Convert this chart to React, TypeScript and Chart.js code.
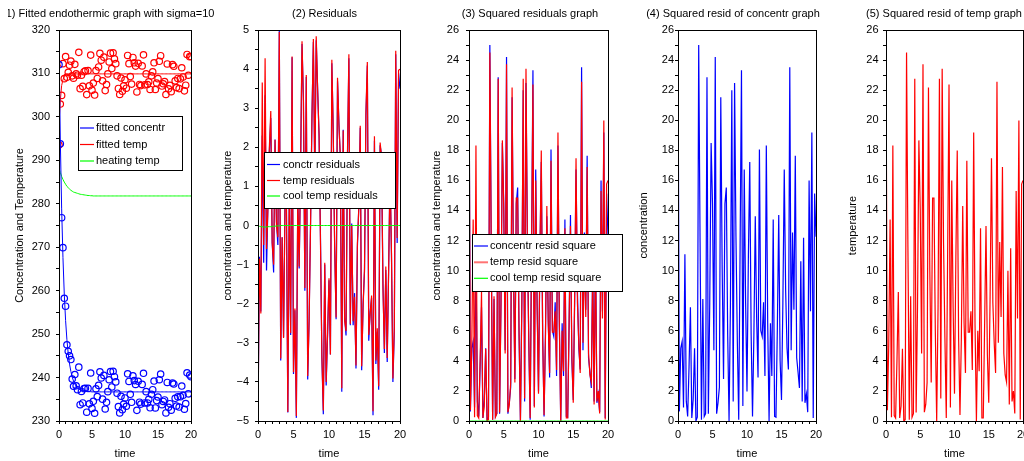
import React, { useEffect, useRef } from 'react';
import { Chart, registerables } from 'chart.js';
Chart.register(...registerables);

// ---------------- data ----------------
const time = [
  0, 0.2, 0.4, 0.6, 0.8, 1, 1.2, 1.4, 1.6, 1.8,
  2, 2.2, 2.4, 2.6, 2.8, 3, 3.2, 3.4, 3.6, 3.8,
  4, 4.2, 4.4, 4.6, 4.8, 5, 5.2, 5.4, 5.6, 5.8,
  6, 6.2, 6.4, 6.6, 6.8, 7, 7.2, 7.4, 7.6, 7.8,
  8, 8.2, 8.4, 8.6, 8.8, 9, 9.2, 9.4, 9.6, 9.8,
  10, 10.2, 10.4, 10.6, 10.8, 11, 11.2, 11.4, 11.6, 11.8,
  12, 12.2, 12.4, 12.6, 12.8, 13, 13.2, 13.4, 13.6, 13.8,
  14, 14.2, 14.4, 14.6, 14.8, 15, 15.2, 15.4, 15.6, 15.8,
  16, 16.2, 16.4, 16.6, 16.8, 17, 17.2, 17.4, 17.6, 17.8,
  18, 18.2, 18.4, 18.6, 18.8, 19, 19.2, 19.4, 19.6, 19.8,
  20,
];

const concData = [
  312.02, 293.8, 276.8, 269.9, 258.25, 256.43, 247.55, 246.05, 245.0, 244.15,
  239.65, 238.0, 240.7, 238.1, 237.2, 242.4, 233.75, 236.8, 234.15, 237.45,
  237.55, 232.02, 237.5, 233.95, 241.05, 232.9, 234.53, 231.78, 237.4, 235.6,
  238.2, 241.34, 239.9, 235.03, 240.5, 232.76, 234.3, 236.75, 239.5, 241.39,
  237.84, 241.44, 240.2, 239.0, 236.4, 233.3, 231.87, 235.7, 232.61, 233.9,
  235.3, 233.4, 240.85, 239.1, 236.15, 234.3, 240.39, 239.3, 238.4, 232.45,
  239.15, 234.33, 233.89, 238.43, 240.98, 234.15, 236.75, 234.15, 234.97, 233.04,
  236.15, 237.2, 239.2, 233.0, 234.7, 235.52, 239.5, 240.79, 233.75, 234.5,
  234.85, 231.85, 238.87, 233.16, 233.98, 232.5, 238.75, 238.5, 235.22, 233.44,
  235.56, 233.21, 235.6, 238.04, 235.93, 232.7, 234.0, 241.08, 236.25, 240.59,
  240.2,
];

const tempData = [
  293.52, 302.95, 304.95, 312.26, 308.8, 313.88, 309.15, 310.25, 311.9, 312.83,
  309.45, 308.9, 312.09, 309.9, 309.6, 314.85, 306.5, 309.6, 307.02, 310.4,
  310.6, 305.13, 310.65, 307.15, 314.22, 306.15, 307.78, 305.03, 310.67, 308.85,
  311.5, 314.61, 313.05, 308.3, 313.75, 306.05, 307.45, 309.9, 312.65, 314.67,
  311.12, 314.74, 313.35, 312.25, 309.45, 306.55, 305.17, 308.95, 305.9, 307.15,
  308.55, 306.6, 314.14, 312.25, 309.27, 307.55, 313.68, 312.45, 311.69, 305.74,
  312.33, 307.47, 307.2, 311.74, 314.28, 307.38, 309.9, 307.45, 308.08, 306.32,
  309.45, 310.35, 312.45, 306.3, 307.8, 308.8, 312.8, 314.08, 307.1, 307.63,
  308.11, 305.15, 312.18, 306.45, 307.27, 305.79, 312.02, 311.65, 308.29, 306.74,
  308.85, 306.51, 308.76, 311.31, 309.19, 305.99, 307.29, 314.37, 309.58, 313.87,
  313.9,
];

const concFit = [
  317.0, 294.6, 279.0, 267.6, 259.2, 253.1, 248.7, 245.5, 243.1, 241.4,
  240.1, 239.2, 238.5, 238.0, 237.7, 237.4, 237.2, 237.1, 237.0, 236.9,
  236.85, 236.8, 236.8, 236.75, 236.75, 236.7, 236.7, 236.7, 236.7, 236.7,
  236.7, 236.7, 236.7, 236.7, 236.7, 236.7, 236.7, 236.7, 236.7, 236.7,
  236.7, 236.7, 236.7, 236.7, 236.7, 236.7, 236.7, 236.7, 236.7, 236.7,
  236.7, 236.7, 236.7, 236.7, 236.7, 236.7, 236.7, 236.7, 236.7, 236.7,
  236.7, 236.7, 236.7, 236.7, 236.7, 236.7, 236.7, 236.7, 236.7, 236.7,
  236.7, 236.7, 236.7, 236.7, 236.7, 236.7, 236.7, 236.7, 236.7, 236.7,
  236.7, 236.7, 236.7, 236.7, 236.7, 236.7, 236.7, 236.7, 236.7, 236.7,
  236.7, 236.7, 236.7, 236.7, 236.7, 236.7, 236.7, 236.7, 236.7, 236.7,
  236.7,
];

const tempFit = [
  298.5, 303.8, 307.2, 308.6, 309.3, 309.6, 309.75, 309.8, 309.9, 309.9,
  309.9, 309.9, 309.9, 309.9, 309.9, 309.9, 309.9, 309.9, 309.9, 309.9,
  309.9, 309.9, 309.9, 309.9, 309.9, 309.9, 309.9, 309.9, 309.9, 309.9,
  309.9, 309.9, 309.9, 309.9, 309.9, 309.9, 309.9, 309.9, 309.9, 309.9,
  309.9, 309.9, 309.9, 309.9, 309.9, 309.9, 309.9, 309.9, 309.9, 309.9,
  309.9, 309.9, 309.9, 309.9, 309.9, 309.9, 309.9, 309.9, 309.9, 309.9,
  309.9, 309.9, 309.9, 309.9, 309.9, 309.9, 309.9, 309.9, 309.9, 309.9,
  309.9, 309.9, 309.9, 309.9, 309.9, 309.9, 309.9, 309.9, 309.9, 309.9,
  309.9, 309.9, 309.9, 309.9, 309.9, 309.9, 309.9, 309.9, 309.9, 309.9,
  309.9, 309.9, 309.9, 309.9, 309.9, 309.9, 309.9, 309.9, 309.9, 309.9,
  309.9,
];

const heatingTemp = [
  288.2, 287.2, 286.3, 285.6, 285.0, 284.5, 284.0, 283.7, 283.4, 283.1,
  282.9, 282.7, 282.6, 282.5, 282.4, 282.3, 282.2, 282.15, 282.1, 282.05,
  282.0, 281.95, 281.9, 281.9, 281.85, 281.85, 281.8, 281.8, 281.8, 281.8,
  281.8, 281.8, 281.8, 281.8, 281.8, 281.8, 281.8, 281.8, 281.8, 281.8,
  281.8, 281.8, 281.8, 281.8, 281.8, 281.8, 281.8, 281.8, 281.8, 281.8,
  281.8, 281.8, 281.8, 281.8, 281.8, 281.8, 281.8, 281.8, 281.8, 281.8,
  281.8, 281.8, 281.8, 281.8, 281.8, 281.8, 281.8, 281.8, 281.8, 281.8,
  281.8, 281.8, 281.8, 281.8, 281.8, 281.8, 281.8, 281.8, 281.8, 281.8,
  281.8, 281.8, 281.8, 281.8, 281.8, 281.8, 281.8, 281.8, 281.8, 281.8,
  281.8, 281.8, 281.8, 281.8, 281.8, 281.8, 281.8, 281.8, 281.8, 281.8,
  281.8,
];

const concResid = [
  -4.98, -0.8, -2.2, 2.3, -0.95, 3.33, -1.15, 0.55, 1.9, 2.75,
  -0.45, -1.2, 2.2, 0.1, -0.5, 5.0, -3.45, -0.3, -2.85, 0.55,
  0.7, -4.78, 0.7, -2.8, 4.3, -3.8, -2.17, -4.92, 0.7, -1.1,
  1.5, 4.64, 3.2, -1.67, 3.8, -3.94, -2.4, 0.05, 2.8, 4.69,
  1.14, 4.74, 3.5, 2.3, -0.3, -3.4, -4.83, -1.0, -4.09, -2.8,
  -1.4, -3.3, 4.15, 2.4, -0.55, -2.4, 3.69, 2.6, 1.7, -4.25,
  2.45, -2.37, -2.81, 1.73, 4.28, -2.55, 0.05, -2.55, -1.73, -3.66,
  -0.55, 0.5, 2.5, -3.7, -2.0, -1.18, 2.8, 4.09, -2.95, -2.2,
  -1.85, -4.85, 2.17, -3.54, -2.72, -4.2, 2.05, 1.8, -1.48, -3.26,
  -1.14, -3.49, -1.1, 1.34, -0.77, -4.0, -2.7, 4.38, -0.45, 3.89,
  3.5,
];

const tempResid = [
  -4.98, -0.85, -2.25, 3.66, -0.5, 4.28, -0.6, 0.45, 2.0, 2.93,
  -0.45, -1.0, 2.19, 0.0, -0.3, 4.95, -3.4, -0.3, -2.88, 0.5,
  0.7, -4.77, 0.75, -2.75, 4.32, -3.75, -2.12, -4.87, 0.77, -1.05,
  1.6, 4.71, 3.15, -1.6, 3.85, -3.85, -2.45, 0.0, 2.75, 4.77,
  1.22, 4.84, 3.45, 2.35, -0.45, -3.35, -4.73, -0.95, -4.0, -2.75,
  -1.35, -3.3, 4.24, 2.35, -0.63, -2.35, 3.78, 2.55, 1.79, -4.16,
  2.43, -2.43, -2.7, 1.84, 4.38, -2.52, 0.0, -2.45, -1.82, -3.58,
  -0.45, 0.45, 2.55, -3.6, -2.1, -1.1, 2.9, 4.18, -2.8, -2.27,
  -1.79, -4.75, 2.28, -3.45, -2.63, -4.11, 2.12, 1.75, -1.61, -3.16,
  -1.05, -3.39, -1.14, 1.41, -0.71, -3.91, -2.61, 4.47, -0.32, 3.97,
  4.0,
];

const coolResid = [
  0, -0.02, -0.03, -0.03, -0.04, -0.04, -0.04, -0.03, -0.03, -0.03,
  -0.02, -0.02, -0.02, -0.01, -0.01, -0.01, 0, 0, 0, 0,
  0, 0, 0, 0, 0, 0, 0, 0, 0, 0,
  0, 0, 0, 0, 0, 0, 0, 0, 0, 0,
  0, 0, 0, 0, 0, 0, 0, 0, 0, 0,
  0, 0, 0, 0, 0, 0, 0, 0, 0, 0,
  0, 0, 0, 0, 0, 0, 0, 0, 0, 0,
  0, 0, 0, 0, 0, 0, 0, 0, 0, 0,
  0, 0, 0, 0, 0, 0, 0, 0, 0, 0,
  0, 0, 0, 0, 0, 0, 0, 0, 0, 0,
  0,
];

const concResidSq = [
  24.8, 0.64, 4.84, 5.29, 0.9, 11.09, 1.32, 0.3, 3.61, 7.56,
  0.2, 1.44, 4.84, 0.01, 0.25, 25.0, 11.9, 0.09, 8.12, 0.3,
  0.49, 22.85, 0.49, 7.84, 18.49, 14.44, 4.71, 24.2, 0.49, 1.21,
  2.25, 21.53, 10.24, 2.79, 14.44, 15.52, 5.76, 0.0, 7.84, 22.0,
  1.3, 22.47, 12.25, 5.29, 0.09, 11.56, 23.33, 1.0, 16.73, 7.84,
  1.96, 10.89, 17.22, 5.76, 0.3, 5.76, 13.62, 6.76, 2.89, 18.06,
  6.0, 5.62, 7.9, 2.99, 18.32, 6.5, 0.0, 6.5, 2.99, 13.4,
  0.3, 0.25, 6.25, 13.69, 4.0, 1.39, 7.84, 16.73, 8.7, 4.84,
  3.42, 23.52, 4.71, 12.53, 7.4, 17.64, 4.2, 3.24, 2.19, 10.63,
  1.3, 12.18, 1.21, 1.8, 0.59, 16.0, 7.29, 19.18, 0.2, 15.13,
  12.25,
];

const tempResidSq = [
  24.8, 0.72, 5.06, 13.4, 0.25, 18.32, 0.36, 0.2, 4.0, 8.58,
  0.2, 1.0, 4.8, 0.0, 0.09, 24.5, 11.56, 0.09, 8.29, 0.25,
  0.49, 22.75, 0.56, 7.56, 18.66, 14.06, 4.49, 23.72, 0.59, 1.1,
  2.56, 22.18, 9.92, 2.56, 14.82, 14.82, 6.0, 0.0, 7.56, 22.75,
  1.49, 23.43, 11.9, 5.52, 0.2, 11.22, 22.37, 0.9, 16.0, 7.56,
  1.82, 10.89, 17.98, 5.52, 0.4, 5.52, 14.29, 6.5, 3.2, 17.31,
  5.9, 5.9, 7.29, 3.39, 19.18, 6.35, 0.0, 6.0, 3.31, 12.82,
  0.2, 0.2, 6.5, 12.96, 4.41, 1.21, 8.41, 17.47, 7.84, 5.15,
  3.2, 22.56, 5.2, 11.9, 6.92, 16.89, 4.49, 3.06, 2.59, 9.99,
  1.1, 11.49, 1.3, 1.99, 0.5, 15.29, 6.81, 19.98, 0.1, 15.76,
  16.0,
];

const coolResidSq = [
  0, 0, 0, 0, 0, 0, 0, 0, 0, 0,
  0, 0, 0, 0, 0, 0, 0, 0, 0, 0,
  0, 0, 0, 0, 0, 0, 0, 0, 0, 0,
  0, 0, 0, 0, 0, 0, 0, 0, 0, 0,
  0, 0, 0, 0, 0, 0, 0, 0, 0, 0,
  0, 0, 0, 0, 0, 0, 0, 0, 0, 0,
  0, 0, 0, 0, 0, 0, 0, 0, 0, 0,
  0, 0, 0, 0, 0, 0, 0, 0, 0, 0,
  0, 0, 0, 0, 0, 0, 0, 0, 0, 0,
  0, 0, 0, 0, 0, 0, 0, 0, 0, 0,
  0,
];

const panelTitles = [
  '(1) Fitted endothermic graph with sigma=10',
  '(2) Residuals',
  '(3) Squared residuals graph',
  '(4) Squared resid of concentr graph',
  '(5) Squared resid of temp graph',
];
const yAxisTitles = [
  'Concentration and Temperature',
  'concentration and temperature',
  'concentration and temperature',
  'concentration',
  'temperature',
];
const xAxisTitle = 'time';
const legend1Labels = ['fitted concentr', 'fitted temp', 'heating temp'];
const legend2Labels = ['conctr residuals', 'temp residuals', 'cool temp residuals'];
const legend3Labels = ['concentr resid square', 'temp resid square', 'cool temp resid square'];

// ---------------- styling / layout ----------------
const FONT = "'Liberation Sans', Arial, Helvetica, sans-serif";
const BLUE = '#0000ff';
const RED = '#ff0000';
const GREEN = '#00ff00';
const W_PAGE = 1024;
const H_PAGE = 461;
const PLOT_TOP = 30;
const PLOT_BOTTOM = 421;
const X_AXIS_H = 40;

const pts = (ys: number[]) => time.map((t, i) => ({ x: t, y: ys[i] }));

function lineDs(label: string, ys: number[], color: string, width = 1) {
  return {
    label,
    data: pts(ys),
    borderColor: color,
    backgroundColor: color,
    borderWidth: width,
    pointRadius: 0,
    tension: 0,
    fill: false,
  };
}

function circleDs(label: string, ys: number[], color: string) {
  return {
    label,
    data: pts(ys),
    showLine: false,
    borderColor: color,
    backgroundColor: 'rgba(0,0,0,0)',
    pointRadius: 3.2,
    pointBorderWidth: 1.2,
    pointBorderColor: color,
    pointBackgroundColor: 'rgba(0,0,0,0)',
  };
}

type LegendSpec = {
  x: number; y: number; w: number; h: number;
  rows: number[]; lineX1: number; lineX2: number; textX: number;
  items: { label: string; color: string; width?: number }[];
};

type PanelSpec = {
  title: string; titleX: number; titleAlign: CanvasTextAlign; titleClip?: number;
  plotLeft: number; plotRight: number;
  yTitle: string; yTitleX: number;
  yMin: number; yMax: number; yMinor: number; yMajor: number; yGap: number;
  datasets: any[];
  legend?: LegendSpec;
};

const panels: PanelSpec[] = [
  {
    title: panelTitles[0], titleX: 2, titleAlign: 'left', titleClip: 8,
    plotLeft: 59, plotRight: 191,
    yTitle: yAxisTitles[0], yTitleX: 20,
    yMin: 230, yMax: 320, yMinor: 5, yMajor: 10, yGap: 6,
    datasets: [
      lineDs(legend1Labels[0], concFit, BLUE),
      lineDs(legend1Labels[1], tempFit, RED),
      lineDs(legend1Labels[2], heatingTemp, GREEN),
      circleDs('concentr data', concData, BLUE),
      circleDs('temp data', tempData, RED),
    ],
    legend: {
      x: 78, y: 116, w: 104, h: 54, rows: [128, 144.5, 161], lineX1: 80, lineX2: 94, textX: 96,
      items: [
        { label: legend1Labels[0], color: BLUE },
        { label: legend1Labels[1], color: RED },
        { label: legend1Labels[2], color: GREEN },
      ],
    },
  },
  {
    title: panelTitles[1], titleX: 324.5, titleAlign: 'center',
    plotLeft: 258, plotRight: 400,
    yTitle: yAxisTitles[1], yTitleX: 228,
    yMin: -5, yMax: 5, yMinor: 0.5, yMajor: 1, yGap: 6,
    datasets: [
      lineDs(legend2Labels[2], coolResid, GREEN),
      lineDs(legend2Labels[1], tempResid, RED, 1.2),
      lineDs(legend2Labels[0], concResid, BLUE, 1.2),
    ],
    legend: {
      x: 264, y: 152, w: 131, h: 56, rows: [164.5, 180.5, 196], lineX1: 267, lineX2: 280, textX: 283,
      items: [
        { label: legend2Labels[0], color: BLUE },
        { label: legend2Labels[1], color: RED },
        { label: legend2Labels[2], color: GREEN },
      ],
    },
  },
  {
    title: panelTitles[2], titleX: 530, titleAlign: 'center',
    plotLeft: 469, plotRight: 608,
    yTitle: yAxisTitles[2], yTitleX: 437,
    yMin: 0, yMax: 26, yMinor: 1, yMajor: 2, yGap: 7,
    datasets: [
      lineDs(legend3Labels[2], coolResidSq, GREEN),
      lineDs(legend3Labels[1], tempResidSq, RED, 1.2),
      lineDs(legend3Labels[0], concResidSq, BLUE, 1.2),
    ],
    legend: {
      x: 472, y: 234, w: 150, h: 57, rows: [246, 262.3, 278.3], lineX1: 474, lineX2: 488, textX: 490,
      items: [
        { label: legend3Labels[0], color: BLUE },
        { label: legend3Labels[1], color: 'rgba(255,0,0,0.55)', width: 2 },
        { label: legend3Labels[2], color: GREEN },
      ],
    },
  },
  {
    title: panelTitles[3], titleX: 733, titleAlign: 'center',
    plotLeft: 678, plotRight: 816,
    yTitle: yAxisTitles[3], yTitleX: 644,
    yMin: 0, yMax: 26, yMinor: 1, yMajor: 2, yGap: 1,
    datasets: [lineDs('concentr resid square', concResidSq, BLUE, 1.2)],
  },
  {
    title: panelTitles[4], titleX: 944, titleAlign: 'center',
    plotLeft: 886, plotRight: 1023,
    yTitle: yAxisTitles[4], yTitleX: 852.7,
    yMin: 0, yMax: 26, yMinor: 1, yMajor: 2, yGap: 4.5,
    datasets: [lineDs('temp resid square', tempResidSq, RED, 1.2)],
  },
];

function fmt(v: number, major: number): string {
  const k = v / major;
  if (Math.abs(k - Math.round(k)) > 1e-6) return '';
  const s = String(Math.round(v * 1000) / 1000);
  return s.replace('-', '\u2212');
}

function makeDecor(spec: PanelSpec, idx: number) {
  return {
    id: 'decor' + idx,
    afterDraw(chart: any) {
      const { ctx, chartArea: a } = chart;
      ctx.save();
      ctx.strokeStyle = '#000';
      ctx.lineWidth = 1;
      ctx.strokeRect(Math.round(a.left) + 0.5, Math.round(a.top) + 0.5,
        Math.round(a.right - a.left), Math.round(a.bottom - a.top));

      ctx.font = `11px ${FONT}`;
      ctx.fillStyle = '#000';
      ctx.textBaseline = 'middle';
      ctx.save();
      if (spec.titleClip !== undefined) {
        ctx.beginPath();
        ctx.rect(spec.titleClip, 0, W_PAGE, H_PAGE);
        ctx.clip();
      }
      ctx.textAlign = spec.titleAlign;
      ctx.fillText(spec.title, spec.titleX, 14);
      ctx.restore();

      const lg = spec.legend;
      if (lg) {
        ctx.fillStyle = '#fff';
        ctx.fillRect(lg.x, lg.y, lg.w, lg.h);
        ctx.strokeStyle = '#000';
        ctx.lineWidth = 1;
        ctx.strokeRect(lg.x + 0.5, lg.y + 0.5, lg.w, lg.h);
        lg.items.forEach((it, i) => {
          const y = lg.rows[i];
          ctx.strokeStyle = it.color;
          ctx.lineWidth = it.width || 1.2;
          ctx.beginPath();
          ctx.moveTo(lg.lineX1, y);
          ctx.lineTo(lg.lineX2, y);
          ctx.stroke();
          ctx.fillStyle = '#000';
          ctx.textAlign = 'left';
          ctx.textBaseline = 'middle';
          ctx.font = `11px ${FONT}`;
          ctx.fillText(it.label, lg.textX, y);
        });
      }
      ctx.restore();
    },
  };
}

function buildConfig(spec: PanelSpec, idx: number): any {
  const axisLeft = spec.yTitleX - 6.6;
  const yWidth = spec.plotLeft - axisLeft;
  const font = { family: FONT, size: 11 };
  return {
    type: 'line',
    data: { datasets: spec.datasets },
    options: {
      responsive: false,
      animation: false,
      devicePixelRatio: 1,
      events: [],
      layout: {
        padding: {
          left: axisLeft,
          right: W_PAGE - spec.plotRight,
          top: PLOT_TOP,
          bottom: H_PAGE - PLOT_BOTTOM - X_AXIS_H,
        },
      },
      plugins: {
        legend: { display: false },
        tooltip: { enabled: false },
        title: { display: false },
      },
      scales: {
        x: {
          type: 'linear',
          position: 'bottom',
          min: 0,
          max: 20,
          afterFit: (s: any) => { s.height = X_AXIS_H; s.paddingLeft = 0; s.paddingRight = 0; },
          ticks: {
            stepSize: 1,
            autoSkip: false,
            maxRotation: 0,
            padding: 4,
            color: '#000',
            font,
            callback: (v: any) => fmt(Number(v), 5),
          },
          grid: { display: true, drawOnChartArea: false, drawTicks: true, tickLength: 3, color: '#000' },
          border: { display: true, color: '#000' },
          title: { display: true, text: xAxisTitle, color: '#000', font, padding: { top: 0, bottom: 0 } },
        },
        y: {
          type: 'linear',
          position: 'left',
          min: spec.yMin,
          max: spec.yMax,
          afterFit: (s: any) => { s.width = yWidth; s.paddingTop = 0; s.paddingBottom = 0; },
          ticks: {
            stepSize: spec.yMinor,
            autoSkip: false,
            padding: spec.yGap,
            color: '#000',
            font,
            callback: (v: any) => fmt(Number(v), spec.yMajor),
          },
          grid: { display: true, drawOnChartArea: false, drawTicks: true, tickLength: 3, color: '#000' },
          border: { display: true, color: '#000' },
          title: { display: true, text: spec.yTitle, color: '#000', font, padding: { top: 0, bottom: 0 } },
        },
      },
    },
    plugins: [makeDecor(spec, idx)],
  };
}

export default function App() {
  const refs = useRef<(HTMLCanvasElement | null)[]>([]);

  useEffect(() => {
    const charts: Chart[] = [];
    panels.forEach((spec, i) => {
      const c = refs.current[i];
      if (c) charts.push(new Chart(c, buildConfig(spec, i)));
    });
    return () => { charts.forEach((ch) => ch.destroy()); };
  }, []);

  return (
    <div style={{ position: 'fixed', left: 0, top: 0, width: W_PAGE, height: H_PAGE, background: '#fff', overflow: 'hidden' }}>
      {panels.map((_, i) => (
        <canvas
          key={i}
          ref={(el) => { refs.current[i] = el; }}
          width={W_PAGE}
          height={H_PAGE}
          style={{ position: 'absolute', left: 0, top: 0, width: W_PAGE, height: H_PAGE }}
        />
      ))}
    </div>
  );
}
